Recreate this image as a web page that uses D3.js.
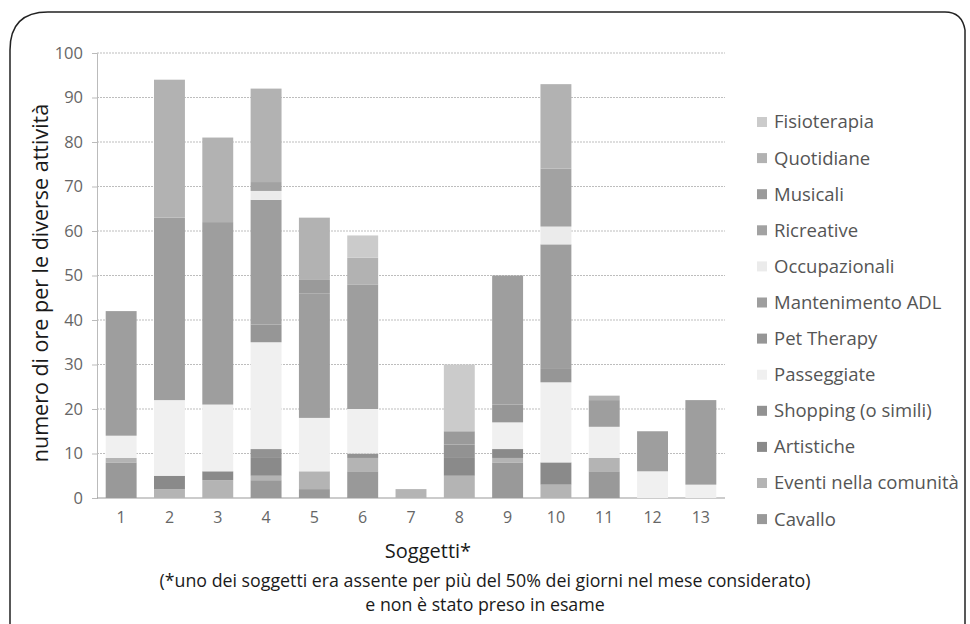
<!DOCTYPE html>
<html><head><meta charset="utf-8">
<script src="https://cdn.jsdelivr.net/npm/d3@7/dist/d3.min.js"></script>
<style>body{margin:0;background:#fff;}svg{display:block;font-family:"Open Sans",sans-serif;}</style>
</head><body>
<svg id="c" width="970" height="624"></svg>
<script>
const subjects = ["1","2","3","4","5","6","7","8","9","10","11","12","13"];
// stacking order, bottom to top
const seriesNames = ["Cavallo","Eventi nella comunità","Artistiche","Shopping (o simili)","Passeggiate","Pet Therapy","Mantenimento ADL","Occupazionali","Ricreative","Musicali","Quotidiane","Fisioterapia"];
const cavallo        = [8,0,0,4,2,6,0,0,8,0,6,0,0];
const eventi         = [1,2,4,1,4,3,2,5,1,3,3,0,0];
const artistiche     = [0,3,2,4,0,0,0,4,2,5,0,0,0];
const shopping       = [0,0,0,2,0,1,0,3,0,0,0,0,0];
const passeggiate    = [5,17,15,24,12,10,0,0,6,18,7,6,3];
const petTherapy     = [0,0,0,4,0,0,0,0,4,3,0,0,0];
const mantenimento   = [28,41,41,28,28,28,0,0,29,28,6,9,19];
const occupazionali  = [0,0,0,2,0,0,0,0,0,4,0,0,0];
const ricreative     = [0,0,0,2,0,0,0,0,0,13,0,0,0];
const musicali       = [0,0,0,0,3,0,0,3,0,0,0,0,0];
const quotidiane     = [0,31,19,21,14,6,0,0,0,19,1,0,0];
const fisioterapia   = [0,0,0,0,0,5,0,15,0,0,0,0,0];
const seriesValues = [cavallo,eventi,artistiche,shopping,passeggiate,petTherapy,mantenimento,occupazionali,ricreative,musicali,quotidiane,fisioterapia];
const seriesColors = ["#999999","#b4b4b4","#8a8a8a","#929292","#f0f0f0","#969696","#9e9e9e","#ebebeb","#a2a2a2","#9a9a9a","#b2b2b2","#cbcbcb"];
const yTicks = [0,10,20,30,40,50,60,70,80,90,100];

const svg = d3.select("#c");
// frame
svg.append("path")
  .attr("d","M10,624 L10,50 Q10,12 48,12 L945,12 Q962,12 965,30 L965,624")
  .attr("fill","none").attr("stroke","#222").attr("stroke-width",1.5);

const x = d3.scaleBand().domain(subjects).range([97,725]).paddingInner(0.36).paddingOuter(0.18);
const y = d3.scaleLinear().domain([0,100]).range([498,53]);

// gridlines
svg.append("g").selectAll("line").data(yTicks.filter(d=>d>0)).join("line")
  .attr("x1",97).attr("x2",725).attr("y1",d=>y(d)).attr("y2",d=>y(d))
  .attr("stroke","#bdbdbd").attr("stroke-dasharray","2,1");

// y axis
const ya = svg.append("g").attr("transform","translate(97,0)")
  .call(d3.axisLeft(y).tickValues(yTicks).tickSize(5).tickPadding(9));
ya.select(".domain").attr("stroke","#bbb");
ya.selectAll(".tick line").attr("stroke","#bbb");
ya.selectAll("text").attr("font-size",16.5).attr("fill","#666").attr("font-family","Open Sans");

// x axis
const xa = svg.append("g").attr("transform","translate(0,498)")
  .call(d3.axisBottom(x).tickSize(0).tickPadding(14));
xa.select(".domain").attr("d","M97,0H725").attr("stroke","#999");
xa.selectAll("text").attr("font-size",16).attr("fill","#666").attr("font-family","Open Sans");

// stacked data
const rows = subjects.map((s,i)=>{const o={subject:s};seriesNames.forEach((n,k)=>o[n]=seriesValues[k][i]);return o;});
const stack = d3.stack().keys(seriesNames)(rows);
svg.append("g").selectAll("g").data(stack).join("g")
  .attr("fill",(d,i)=>seriesColors[i])
  .selectAll("rect").data(d=>d).join("rect")
  .attr("x",d=>x(d.data.subject)).attr("width",x.bandwidth())
  .attr("y",d=>y(d[1])).attr("height",d=>y(d[0])-y(d[1]));

// y title
svg.append("text").attr("transform","translate(48,283) rotate(-90)")
  .attr("text-anchor","middle").attr("font-size",21.5).attr("fill","#1a1a1a")
  .text("numero di ore per le diverse attività");

// x title & note
svg.append("text").attr("x",428).attr("y",558).attr("text-anchor","middle")
  .attr("font-size",20).attr("fill","#1a1a1a").text("Soggetti*");
svg.append("text").attr("x",485).attr("y",587).attr("text-anchor","middle")
  .attr("font-size",17.8).attr("fill","#1a1a1a")
  .text("(*uno dei soggetti era assente per più del 50% dei giorni nel mese considerato)");
svg.append("text").attr("x",485).attr("y",611).attr("text-anchor","middle")
  .attr("font-size",17.8).attr("fill","#1a1a1a").text("e non è stato preso in esame");

// legend (top = last series)
const legendItems = seriesNames.map((n,i)=>({name:n,color:seriesColors[i]})).reverse();
const lg = svg.append("g").selectAll("g").data(legendItems).join("g")
  .attr("transform",(d,i)=>`translate(757,${122+i*36.1})`);
lg.append("rect").attr("x",0).attr("y",-5).attr("width",10).attr("height",10).attr("fill",d=>d.color);
lg.append("text").attr("x",17).attr("y",0).attr("dy","0.35em").attr("font-size",18.5)
  .attr("fill","#555").text(d=>d.name);
</script>
</body></html>
